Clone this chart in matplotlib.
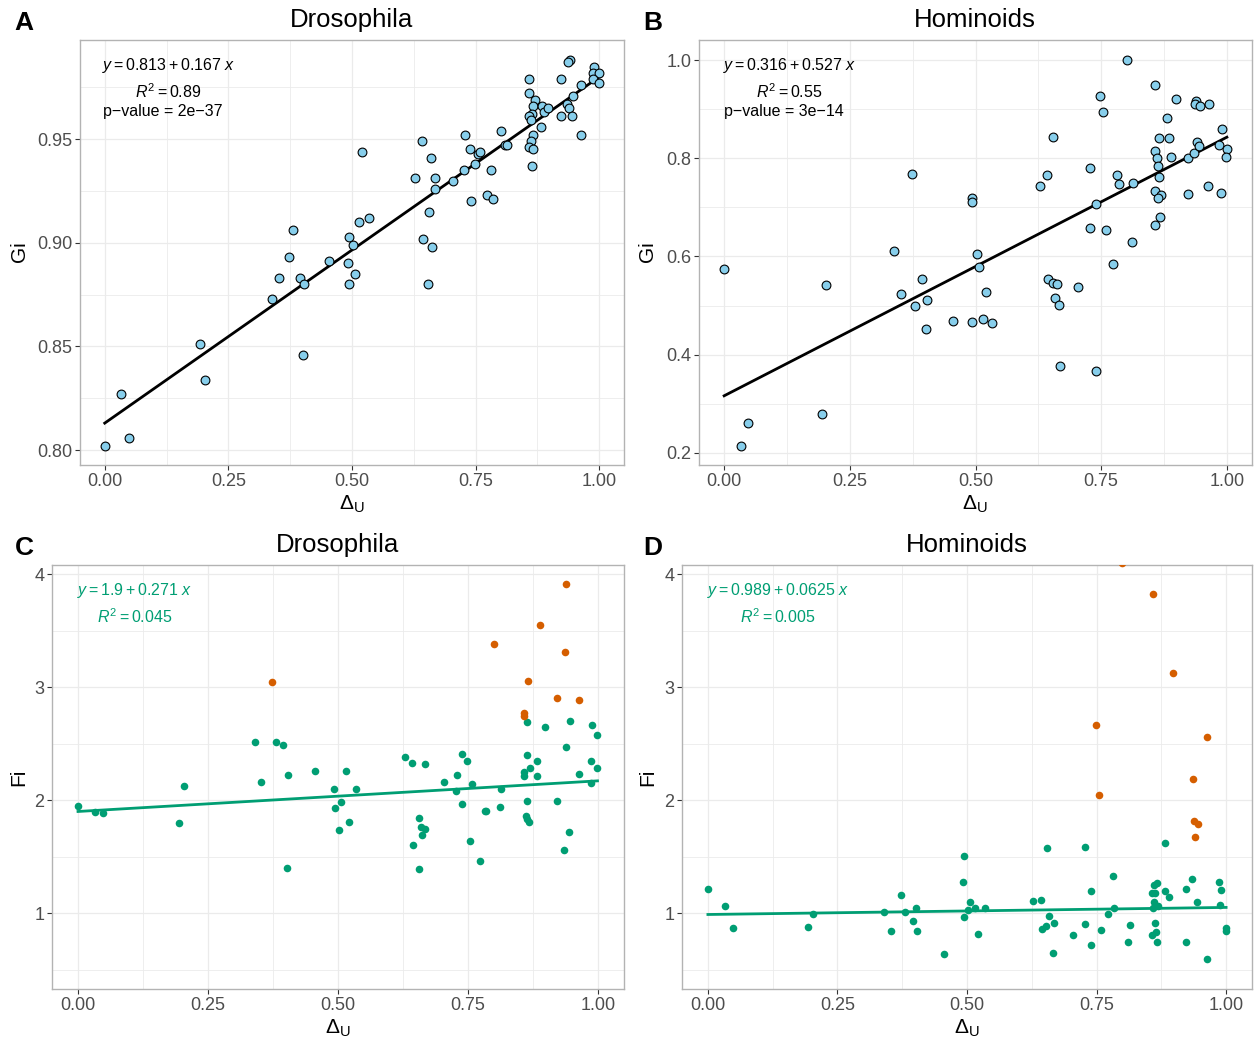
import matplotlib
matplotlib.use('Agg')
import matplotlib.pyplot as plt
from matplotlib.ticker import MultipleLocator, FormatStrFormatter
import numpy as np

plt.rcParams['font.family'] = ['Liberation Sans', 'DejaVu Sans']
plt.rcParams['mathtext.fontset'] = 'custom'
plt.rcParams['mathtext.rm'] = 'Liberation Sans'
plt.rcParams['mathtext.it'] = 'Liberation Sans:italic'

# ---- panel A: Drosophila, Gi vs delta_U
a_x = [0.000, 0.033, 0.049, 0.193, 0.203, 0.401, 0.339, 0.352, 0.373, 0.380,
       0.394, 0.403, 0.454, 0.492, 0.493, 0.494, 0.502, 0.506, 0.515, 0.534,
       0.521, 0.628, 0.642, 0.644, 0.654, 0.655, 0.659, 0.662, 0.667, 0.668,
       0.704, 0.726, 0.728, 0.739, 0.740, 0.748, 0.755, 0.758, 0.773, 0.781,
       0.785, 0.801, 0.810, 0.814, 0.858, 0.857, 0.870, 0.865, 0.863, 0.857,
       0.862, 0.865, 0.861, 0.858, 0.867, 0.863, 0.882, 0.884, 0.888, 0.897,
       0.922, 0.922, 0.935, 0.938, 0.944, 0.946, 0.941, 0.937, 0.963, 0.963,
       0.989, 0.988, 1.000, 0.987, 1.000]
a_y = [0.802, 0.827, 0.806, 0.851, 0.834, 0.846, 0.873, 0.883, 0.893, 0.906,
       0.883, 0.880, 0.891, 0.890, 0.880, 0.903, 0.899, 0.885, 0.910, 0.912,
       0.944, 0.931, 0.949, 0.902, 0.880, 0.915, 0.941, 0.898, 0.931, 0.926,
       0.930, 0.935, 0.952, 0.945, 0.920, 0.938, 0.943, 0.944, 0.923, 0.935,
       0.921, 0.954, 0.947, 0.947, 0.979, 0.972, 0.969, 0.966, 0.962, 0.961,
       0.959, 0.952, 0.949, 0.946, 0.945, 0.937, 0.956, 0.966, 0.963, 0.965,
       0.979, 0.961, 0.967, 0.965, 0.961, 0.971, 0.988, 0.987, 0.976, 0.952,
       0.985, 0.982, 0.982, 0.979, 0.977]
a_fit = (0.813, 0.167)

# ---- panel B: Hominoids, Gi vs delta_U
b_x = [0.000, 0.033, 0.048, 0.194, 0.202, 0.338, 0.352, 0.373, 0.380, 0.394,
       0.403, 0.401, 0.455, 0.493, 0.494, 0.493, 0.502, 0.506, 0.515, 0.521,
       0.533, 0.629, 0.642, 0.655, 0.644, 0.655, 0.662, 0.659, 0.667, 0.668,
       0.704, 0.728, 0.728, 0.740, 0.740, 0.748, 0.754, 0.759, 0.773, 0.782,
       0.785, 0.801, 0.811, 0.814, 0.858, 0.858, 0.861, 0.863, 0.865, 0.858,
       0.869, 0.863, 0.867, 0.858, 0.866, 0.884, 0.881, 0.898, 0.889, 0.923,
       0.922, 0.935, 0.938, 0.937, 0.947, 0.964, 0.940, 0.944, 0.963, 0.988,
       0.990, 0.985, 1.000, 0.999]
b_y = [0.575, 0.214, 0.261, 0.278, 0.541, 0.612, 0.524, 0.768, 0.499, 0.554,
       0.511, 0.452, 0.469, 0.719, 0.711, 0.467, 0.605, 0.578, 0.473, 0.528,
       0.465, 0.743, 0.766, 0.844, 0.555, 0.546, 0.543, 0.516, 0.501, 0.377,
       0.538, 0.781, 0.657, 0.707, 0.367, 0.927, 0.894, 0.653, 0.585, 0.766,
       0.748, 1.000, 0.630, 0.749, 0.950, 0.815, 0.801, 0.784, 0.762, 0.734,
       0.726, 0.719, 0.680, 0.664, 0.842, 0.842, 0.883, 0.920, 0.802, 0.728,
       0.801, 0.810, 0.916, 0.910, 0.906, 0.911, 0.833, 0.826, 0.743, 0.730,
       0.859, 0.828, 0.818, 0.803]
b_fit = (0.316, 0.527)

# ---- panel C: Drosophila, Fi vs delta_U (orange = high Fi)
c_x = [0.000, 0.033, 0.049, 0.194, 0.203, 0.340, 0.352, 0.380, 0.394, 0.403,
       0.401, 0.455, 0.492, 0.494, 0.506, 0.502, 0.516, 0.521, 0.534, 0.629,
       0.642, 0.667, 0.655, 0.659, 0.668, 0.662, 0.645, 0.655, 0.704, 0.728,
       0.727, 0.739, 0.749, 0.739, 0.758, 0.754, 0.773, 0.782, 0.784, 0.811,
       0.814, 0.864, 0.863, 0.857, 0.857, 0.869, 0.863, 0.861, 0.864, 0.867,
       0.898, 0.883, 0.882, 0.922, 0.938, 0.946, 0.944, 0.934, 0.963, 0.989,
       0.987, 0.999, 0.999, 0.986]
c_y = [1.949, 1.896, 1.887, 1.802, 2.126, 2.515, 2.158, 2.518, 2.488, 2.223,
       1.398, 2.261, 2.102, 1.934, 1.987, 1.740, 2.261, 1.805, 2.096, 2.382,
       2.332, 2.317, 1.843, 1.763, 1.746, 1.693, 1.607, 1.389, 2.161, 2.220,
       2.082, 2.412, 2.344, 1.967, 2.146, 1.637, 1.466, 1.908, 1.905, 1.943,
       2.096, 2.692, 2.400, 2.253, 2.217, 2.288, 1.996, 1.864, 1.831, 1.810,
       2.645, 2.347, 2.214, 1.993, 2.474, 2.701, 1.719, 1.563, 2.229, 2.662,
       2.344, 2.577, 2.282, 2.155]
c_out_x = [0.374, 0.800, 0.857, 0.858, 0.866, 0.888, 0.922, 0.936, 0.939, 0.963]
c_out_y = [3.048, 3.378, 2.768, 2.748, 3.057, 3.546, 2.901, 3.311, 3.912, 2.883]
c_fit = (1.9, 0.271)

# ---- panel D: Hominoids, Fi vs delta_U
d_x = [0.000, 0.033, 0.049, 0.194, 0.203, 0.339, 0.353, 0.373, 0.380, 0.395,
       0.402, 0.403, 0.455, 0.494, 0.492, 0.506, 0.502, 0.516, 0.494, 0.521,
       0.534, 0.628, 0.642, 0.655, 0.659, 0.668, 0.652, 0.645, 0.666, 0.704,
       0.727, 0.739, 0.728, 0.739, 0.758, 0.781, 0.784, 0.773, 0.815, 0.811,
       0.866, 0.861, 0.857, 0.863, 0.861, 0.869, 0.858, 0.863, 0.864, 0.857,
       0.867, 0.883, 0.882, 0.889, 0.923, 0.923, 0.934, 0.944, 0.964, 0.986,
       0.990, 0.988, 0.999, 1.000]
d_y = [1.218, 1.065, 0.870, 0.882, 0.994, 1.009, 0.844, 1.159, 1.009, 0.929,
       1.050, 0.844, 0.643, 1.507, 1.277, 1.097, 1.029, 1.047, 0.968, 0.814,
       1.047, 1.109, 1.121, 1.575, 0.979, 0.917, 0.891, 0.864, 0.649, 0.805,
       1.589, 1.197, 0.906, 0.720, 0.856, 1.330, 1.050, 0.994, 0.894, 0.749,
       1.268, 1.253, 1.180, 1.180, 1.103, 1.068, 1.047, 0.917, 0.835, 0.811,
       0.744, 1.625, 1.195, 1.147, 1.212, 0.749, 1.301, 1.103, 0.596, 1.274,
       1.203, 1.077, 0.867, 0.844]
d_out_x = [0.748, 0.754, 0.800, 0.858, 0.898, 0.937, 0.939, 0.946, 0.940, 0.964]
d_out_y = [2.665, 2.049, 4.100, 3.823, 3.122, 2.191, 1.819, 1.790, 1.678, 2.562]
d_fit = (0.989, 0.0625)

W, H = 1254, 1043
fig = plt.figure(figsize=(W / 100, H / 100), dpi=100)

GREEN = '#009E73'
ORANGE = '#D55E00'


def px_axes(left, right, top, bottom):
    return fig.add_axes([left / W, 1 - bottom / H, (right - left) / W, (bottom - top) / H])


def style(ax, ymajor, yminor, yfmt, ylim):
    ax.set_xlim(-0.05, 1.05)
    ax.set_ylim(*ylim)
    ax.xaxis.set_major_locator(MultipleLocator(0.25))
    ax.xaxis.set_minor_locator(MultipleLocator(0.125))
    ax.xaxis.set_major_formatter(FormatStrFormatter('%.2f'))
    ax.yaxis.set_major_locator(MultipleLocator(ymajor))
    ax.yaxis.set_minor_locator(MultipleLocator(yminor))
    ax.yaxis.set_major_formatter(FormatStrFormatter(yfmt))
    ax.grid(which='major', color='#EBEBEB', lw=0.9)
    ax.grid(which='minor', color='#EBEBEB', lw=0.6)
    ax.set_axisbelow(True)
    for s in ax.spines.values():
        s.set_color('#B3B3B3')
        s.set_linewidth(1.0)
    ax.tick_params(which='major', length=3.5, width=0.8, color='#333333',
                   labelsize=13, labelcolor='#4D4D4D', pad=2)
    ax.tick_params(which='minor', length=0)


def fit_line(ax, xs, fit, color):
    xx = np.array([min(xs), max(xs)])
    ax.plot(xx, fit[0] + fit[1] * xx, color=color, lw=2.0, zorder=3)


# A
axA = px_axes(80, 624, 40, 465)
style(axA, 0.05, 0.025, '%.2f', (0.7928, 0.9978))
axA.scatter(a_x, a_y, s=40, facecolor='#87CEEB', edgecolor='black', linewidths=0.8, zorder=4)
fit_line(axA, a_x, a_fit, 'black')

# B
axB = px_axes(699, 1252, 40, 465)
style(axB, 0.2, 0.1, '%.1f', (0.175, 1.041))
axB.scatter(b_x, b_y, s=40, facecolor='#87CEEB', edgecolor='black', linewidths=0.8, zorder=4)
fit_line(axB, b_x, b_fit, 'black')

# C
axC = px_axes(52, 624, 565, 989)
style(axC, 1, 0.5, '%d', (0.33, 4.08))
fit_line(axC, c_x + c_out_x, c_fit, GREEN)
axC.scatter(c_x, c_y, s=30, color=GREEN, linewidths=0, zorder=4)
axC.scatter(c_out_x, c_out_y, s=30, color=ORANGE, linewidths=0, zorder=4)

# D
axD = px_axes(682, 1252, 565, 989)
style(axD, 1, 0.5, '%d', (0.33, 4.08))
fit_line(axD, d_x + d_out_x, d_fit, GREEN)
axD.scatter(d_x, d_y, s=30, color=GREEN, linewidths=0, zorder=4)
axD.scatter(d_out_x, d_out_y, s=30, color=ORANGE, linewidths=0, zorder=4)

# equation labels
def eq_label(ax, fit, r2, pval, color, cx):
    lines = [r'$\mathit{y} = %s + %s\ \mathit{x}$' % (fit[0], fit[1]),
             r'$\mathit{R}^2 = %s$' % r2]
    if pval:
        lines.append(u'p\u2212value = ' + pval)
    ys = [0.939, 0.878, 0.831]
    xs = [cx, cx, cx - 0.009]
    for txt, xx, yy in zip(lines, xs, ys):
        ax.text(xx, yy, txt, transform=ax.transAxes, ha='center', va='center',
                fontsize=11.5, color=color)

eq_label(axA, a_fit, '0.89', u'2e\u221237', 'black', 0.162)
eq_label(axB, b_fit, '0.55', u'3e\u221214', 'black', 0.163)
eq_label(axC, c_fit, '0.045', None, GREEN, 0.145)
eq_label(axD, d_fit, '0.005', None, GREEN, 0.168)

# titles, axis labels, panel letters
for cx, cy, t in [(352, 20, 'Drosophila'), (975, 20, 'Hominoids'),
                  (338, 545, 'Drosophila'), (967, 545, 'Hominoids')]:
    fig.text(cx / W, 1 - cy / H, t, ha='center', va='center', fontsize=18.5)

for cx, cy in [(352, 504), (975, 504), (338, 1028), (967, 1028)]:
    fig.text(cx / W, 1 - cy / H, r'$\Delta_{\mathrm{U}}$', ha='center', va='center', fontsize=15)

for cx, cy, t in [(19, 252, 'Gi'), (648, 252, 'Gi'), (19, 777, 'Fi'), (648, 777, 'Fi')]:
    fig.text(cx / W, 1 - cy / H, t, ha='center', va='center', fontsize=15, rotation=90)

for cx, cy, t in [(24, 23, 'A'), (653, 23, 'B'), (24, 548, 'C'), (653, 548, 'D')]:
    fig.text(cx / W, 1 - cy / H, t, ha='center', va='center', fontsize=19, fontweight='bold')

fig.savefig('out.png', dpi=100)
